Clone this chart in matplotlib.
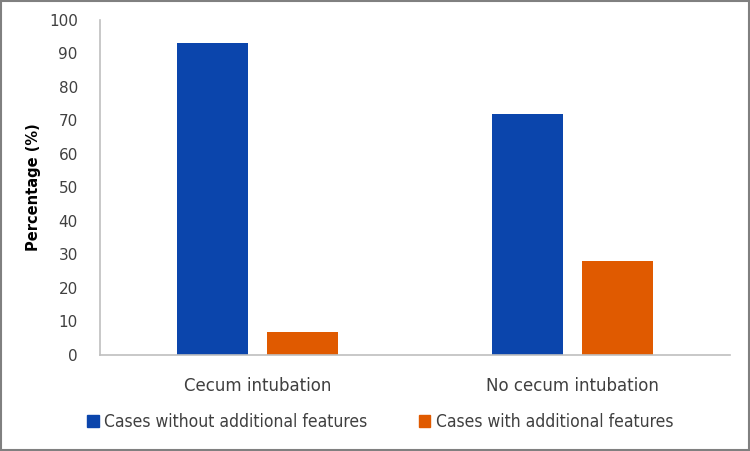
import matplotlib.pyplot as plt
import numpy as np
from matplotlib.patches import Patch
from matplotlib import font_manager

categories = ['Cecum intubation', 'No cecum intubation']
series_names = ['Cases without additional features', 'Cases with additional features']
without_features = [93, 72]
with_features = [7, 28]

colors = ['#0B45AC', '#E05A00']

fig = plt.figure(figsize=(7.5, 4.51), dpi=100)
ax = fig.add_axes([0.1333, 0.2129, 0.84, 0.7428])

x = np.arange(len(categories))
width = 0.225
offset = 0.1425
ax.bar(x - offset, without_features, width, color=colors[0])
ax.bar(x + offset, with_features, width, color=colors[1])

ax.set_xlim(-0.5, 1.5)
ax.set_ylim(0, 100)
ax.set_yticks(range(0, 101, 10))
ax.set_xticks(x)
ax.set_xticklabels(categories, fontsize=12, color='#404040')
ax.tick_params(axis='both', length=0, colors='#404040', labelsize=11)
ax.tick_params(axis='x', pad=16, labelsize=12)
ax.tick_params(axis='y', pad=16)

for s in ['top', 'right']:
    ax.spines[s].set_visible(False)
ax.spines['left'].set_color('#BFBFBF')
ax.spines['bottom'].set_color('#BFBFBF')
ax.spines['left'].set_linewidth(1.2)
ax.spines['bottom'].set_linewidth(1.2)

ax.set_ylabel('Percentage (%)', fontsize=10.5, fontweight='bold', labelpad=6)

handles = [Patch(color=colors[0]), Patch(color=colors[1])]
leg_font = font_manager.FontProperties(family='DejaVu Sans', stretch='condensed', size=12.5)
leg = fig.legend(handles, series_names, loc='center', bbox_to_anchor=(0.507, 0.064),
                 ncol=2, frameon=False, handlelength=0.65, handleheight=0.7,
                 handletextpad=0.3, columnspacing=3.0, prop=leg_font)
for t in leg.get_texts():
    t.set_color('#404040')

# grey frame around the whole picture
fig.patches.append(plt.Rectangle((0.001, 0.002), 0.997, 0.996, transform=fig.transFigure,
                                 fill=False, edgecolor='#808080', linewidth=1.5))

fig.savefig('out.png', dpi=100)
